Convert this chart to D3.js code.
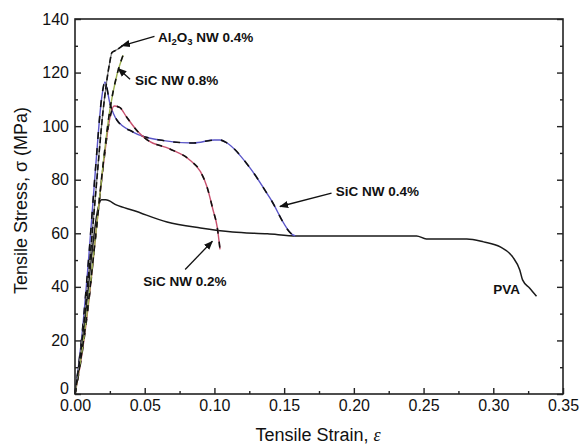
<!DOCTYPE html>
<html>
<head>
<meta charset="utf-8">
<script src="https://cdn.jsdelivr.net/npm/d3@7"></script>
<style>
  body { margin: 0; background: #fff; }
  text { font-family: "Liberation Sans", Arial, sans-serif; }
</style>
</head>
<body>
<svg id="chart" width="583" height="448"></svg>
<script>
// curve data (strain, stress in MPa)
var pvaStrain = [0, 0.004, 0.008, 0.012, 0.016, 0.019, 0.022, 0.03, 0.042, 0.066, 0.09, 0.113, 0.138, 0.159, 0.2, 0.245, 0.252, 0.281, 0.293, 0.305, 0.314, 0.319, 0.321, 0.326, 0.331];
var pvaStress = [0, 14, 32, 52, 68, 72.5, 72.5, 70.5, 68.5, 64.2, 62, 60.5, 59.8, 59, 59, 59, 57.9, 57.9, 56.8, 54.9, 51.1, 46.3, 42.6, 39.6, 36.5];

var sic02Strain = [0, 0.005, 0.01, 0.015, 0.02, 0.025, 0.028, 0.032, 0.037, 0.045, 0.052, 0.068, 0.0825, 0.09, 0.0947, 0.099, 0.102, 0.104];
var sic02Stress = [0, 15, 35, 60, 84, 103, 107.5, 107, 103.4, 98, 94.8, 91.5, 87.3, 83, 77.3, 68.7, 62.3, 54];

var sic04Strain = [0, 0.005, 0.01, 0.015, 0.019, 0.0215, 0.025, 0.03, 0.0416, 0.061, 0.085, 0.1, 0.104, 0.109, 0.1255, 0.14, 0.156, 0.158];
var sic04Stress = [0, 22, 52, 86, 110, 116.5, 108.6, 102.3, 97.8, 94.8, 93.7, 94.8, 94.8, 93.7, 84.4, 73, 59.5, 59];

var alStrain = [0, 0.005, 0.01, 0.015, 0.02, 0.025, 0.0265, 0.03, 0.034];
var alStress = [0, 20, 46, 76, 105, 124, 127.5, 128.5, 130];

var sic08Strain = [0, 0.005, 0.01, 0.015, 0.02, 0.025, 0.03, 0.0345];
var sic08Stress = [0, 16, 36, 60, 85, 106, 119, 126.5];

var xTicks = [0, 0.05, 0.10, 0.15, 0.20, 0.25, 0.30, 0.35];
var yTicks = [0, 20, 40, 60, 80, 100, 120, 140];

var margin = { top: 19, right: 20, bottom: 54, left: 75 };
var width = 488;
var height = 375;

var svg = d3.select("#chart")
    .append("g")
    .attr("transform", "translate(" + margin.left + "," + margin.top + ")");

var xScale = d3.scaleLinear().domain([0, 0.35]).range([0, width]);
var yScale = d3.scaleLinear().domain([0, 140]).range([height, 0]);

function pts(xs, ys) {
    return xs.map(function(d, i) { return { x: d, y: ys[i] }; });
}

var line = d3.line()
    .x(function(d) { return xScale(d.x); })
    .y(function(d) { return yScale(d.y); })
    .curve(d3.curveMonotoneX);

// series: base colour plus a dark dashed overlay like the scanned figure
var series = [
    { data: pts(pvaStrain, pvaStress), color: "#1a1a1a", width: 1.5, dash: null },
    { data: pts(sic04Strain, sic04Stress), color: "#5a55c8", width: 1.4, dash: "7,9" },
    { data: pts(sic02Strain, sic02Stress), color: "#c8506e", width: 1.4, dash: "6,8" },
    { data: pts(sic08Strain, sic08Stress), color: "#9cb050", width: 1.4, dash: "6,6" },
    { data: pts(alStrain, alStress), color: "#777", width: 1.2, dash: "6,3" }
];

series.forEach(function(s) {
    svg.append("path")
        .datum(s.data)
        .attr("d", line)
        .attr("fill", "none")
        .attr("stroke", s.color)
        .attr("stroke-width", s.width);
    if (s.dash) {
        svg.append("path")
            .datum(s.data)
            .attr("d", line)
            .attr("fill", "none")
            .attr("stroke", "#111")
            .attr("stroke-width", 1.6)
            .attr("stroke-dasharray", s.dash);
    }
});

// frame
svg.append("rect")
    .attr("width", width)
    .attr("height", height)
    .attr("fill", "none")
    .attr("stroke", "#222")
    .attr("stroke-width", 1.6);

// x axis
svg.append("g")
    .attr("transform", "translate(0," + height + ")")
    .call(d3.axisBottom(xScale)
        .tickValues(xTicks)
        .tickFormat(d3.format(".2f"))
        .tickSize(-6)
        .tickPadding(6));

svg.append("g")
    .attr("transform", "translate(0," + height + ")")
    .call(d3.axisBottom(xScale)
        .tickValues(d3.range(0.025, 0.35, 0.05))
        .tickFormat("")
        .tickSize(-3));

// y axis
var yAxis = svg.append("g")
    .call(d3.axisLeft(yScale)
        .tickValues(yTicks)
        .tickFormat(d3.format("d"))
        .tickSize(-6)
        .tickPadding(6));

svg.append("g")
    .call(d3.axisLeft(yScale)
        .tickValues(d3.range(10, 140, 20))
        .tickFormat("")
        .tickSize(-3));

// right axis ticks
svg.append("g")
    .attr("transform", "translate(" + width + ",0)")
    .call(d3.axisRight(yScale)
        .tickValues(yTicks)
        .tickFormat("")
        .tickSize(-6));

svg.append("g")
    .attr("transform", "translate(" + width + ",0)")
    .call(d3.axisRight(yScale)
        .tickValues(d3.range(10, 140, 20))
        .tickFormat("")
        .tickSize(-3));

svg.selectAll(".domain").remove();
svg.selectAll(".tick line").attr("stroke", "#222").attr("stroke-width", 1.4);
svg.selectAll(".tick text")
    .style("font-size", "16px")
    .attr("fill", "#111");

// lift the "0" on the y axis a little so it clears "0.00"
yAxis.selectAll(".tick text").filter(function(d) { return d === 0; }).attr("dy", "-0.05em");

// axis labels
var xl = svg.append("text")
    .attr("x", width / 2 - 1)
    .attr("y", height + 47)
    .style("text-anchor", "middle")
    .style("font-size", "18px")
    .attr("fill", "#111");
xl.append("tspan").text("Tensile Strain, ");
xl.append("tspan").style("font-style", "italic").style("font-family", "'Liberation Serif', serif").text("ε");

svg.append("text")
    .attr("transform", "rotate(-90)")
    .attr("x", -height / 2 + 6)
    .attr("y", -48)
    .style("text-anchor", "middle")
    .style("font-size", "18px")
    .attr("fill", "#111")
    .text("Tensile Stress, σ (MPa)");

// curve labels with arrows
svg.append("defs").append("marker")
    .attr("id", "arr")
    .attr("viewBox", "0 0 10 10")
    .attr("refX", 9)
    .attr("refY", 5)
    .attr("markerWidth", 7)
    .attr("markerHeight", 7)
    .attr("orient", "auto")
    .append("path")
    .attr("d", "M0,1 L10,5 L0,9 Z")
    .attr("fill", "#111");

var notes = [
    { text: "SiC NW 0.8%", tx: 0.043, ty: 115.5, ax: 0.0395, ay: 117.5, bx: 0.031, by: 121.5 },
    { text: "SiC NW 0.4%", tx: 0.187, ty: 74, ax: 0.184, ay: 75, bx: 0.147, by: 70 },
    { text: "SiC NW 0.2%", tx: 0.049, ty: 40.5, ax: 0.079, ay: 46.5, bx: 0.0985, by: 57 },
    { text: "PVA", tx: 0.3, ty: 37.5, ax: null }
];

notes.forEach(function(n) {
    svg.append("text")
        .attr("x", xScale(n.tx))
        .attr("y", yScale(n.ty))
        .style("font-size", "13.5px")
        .style("font-weight", "bold")
        .attr("fill", "#111")
        .text(n.text);
    if (n.ax !== null) {
        svg.append("line")
            .attr("x1", xScale(n.ax)).attr("y1", yScale(n.ay))
            .attr("x2", xScale(n.bx)).attr("y2", yScale(n.by))
            .attr("stroke", "#111")
            .attr("stroke-width", 1.3)
            .attr("marker-end", "url(#arr)");
    }
});

// Al2O3 label with subscripts
var al = svg.append("text")
    .attr("x", xScale(0.0595))
    .attr("y", yScale(131.5))
    .style("font-size", "13.5px")
    .style("font-weight", "bold")
    .attr("fill", "#111");
al.append("tspan").text("Al");
al.append("tspan").attr("dy", 3).style("font-size", "9.5px").text("2");
al.append("tspan").attr("dy", -3).text("O");
al.append("tspan").attr("dy", 3).style("font-size", "9.5px").text("3");
al.append("tspan").attr("dy", -3).text(" NW 0.4%");

svg.append("line")
    .attr("x1", xScale(0.057)).attr("y1", yScale(133.5))
    .attr("x2", xScale(0.0335)).attr("y2", yScale(130))
    .attr("stroke", "#111")
    .attr("stroke-width", 1.3)
    .attr("marker-end", "url(#arr)");
</script>
</body>
</html>
